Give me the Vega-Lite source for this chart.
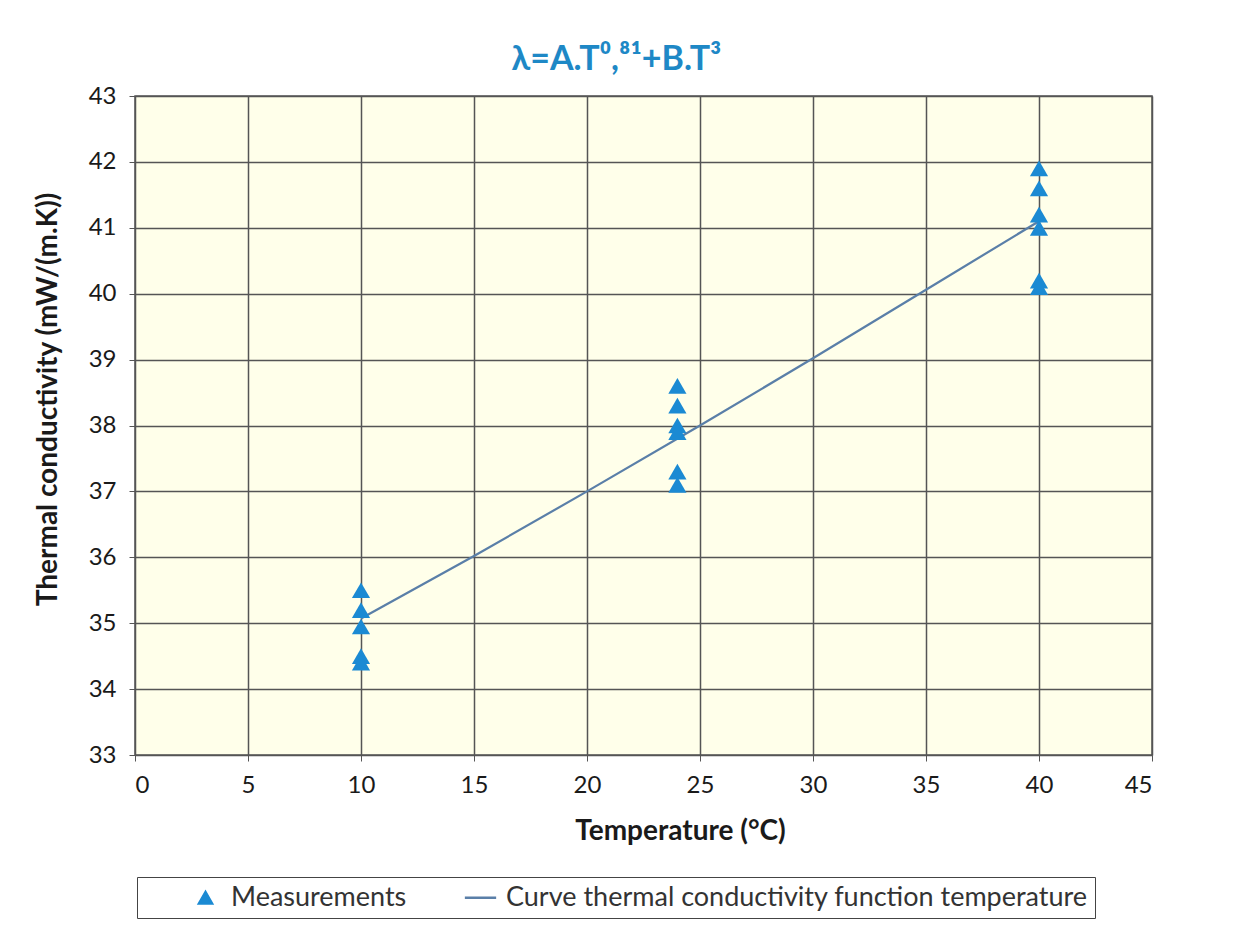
{
  "$schema": "https://vega.github.io/schema/vega-lite/v6.json",
  "width": 1017,
  "height": 659,
  "autosize": "none",
  "padding": {"left": 135, "top": 96, "right": 102, "bottom": 186},
  "background": "white",
  "title": {
    "text": "λ=A.T⁰,⁸¹+B.T³",
    "font": "Lato",
    "fontSize": 34,
    "fontWeight": "bold",
    "color": "#1E88C6",
    "anchor": "middle",
    "dx": -27,
    "offset": 7
  },
  "datasets": {
    "meas": [
      {"T": 10, "lambda": 35.5, "series": "Measurements"},
      {"T": 10, "lambda": 35.2, "series": "Measurements"},
      {"T": 10, "lambda": 34.95, "series": "Measurements"},
      {"T": 10, "lambda": 34.5, "series": "Measurements"},
      {"T": 10, "lambda": 34.4, "series": "Measurements"},
      {"T": 24, "lambda": 38.6, "series": "Measurements"},
      {"T": 24, "lambda": 38.3, "series": "Measurements"},
      {"T": 24, "lambda": 38.0, "series": "Measurements"},
      {"T": 24, "lambda": 37.9, "series": "Measurements"},
      {"T": 24, "lambda": 37.3, "series": "Measurements"},
      {"T": 24, "lambda": 37.1, "series": "Measurements"},
      {"T": 40, "lambda": 41.9, "series": "Measurements"},
      {"T": 40, "lambda": 41.6, "series": "Measurements"},
      {"T": 40, "lambda": 41.2, "series": "Measurements"},
      {"T": 40, "lambda": 41.0, "series": "Measurements"},
      {"T": 40, "lambda": 40.2, "series": "Measurements"},
      {"T": 40, "lambda": 40.1, "series": "Measurements"}
    ],
    "curve": [
      {"T": 10, "lambda": 35.07, "series": "Curve thermal conductivity function temperature"},
      {"T": 15, "lambda": 36.02, "series": "Curve thermal conductivity function temperature"},
      {"T": 20, "lambda": 37.0, "series": "Curve thermal conductivity function temperature"},
      {"T": 25, "lambda": 38.0, "series": "Curve thermal conductivity function temperature"},
      {"T": 30, "lambda": 39.02, "series": "Curve thermal conductivity function temperature"},
      {"T": 35, "lambda": 40.06, "series": "Curve thermal conductivity function temperature"},
      {"T": 40, "lambda": 41.1, "series": "Curve thermal conductivity function temperature"}
    ]
  },
  "layer": [
    {
      "data": {"name": "curve"},
      "mark": {"type": "line", "strokeWidth": 2.2},
      "encoding": {
        "x": {"field": "T", "type": "quantitative"},
        "y": {"field": "lambda", "type": "quantitative"},
        "color": {
          "field": "series", "type": "nominal",
          "scale": {"domain": ["Measurements", "Curve thermal conductivity function temperature"], "range": ["#1B8AD3", "#5A7FA8"]},
          "legend": {"title": null}
        }
      }
    },
    {
      "data": {"name": "meas"},
      "mark": {"type": "point", "filled": true, "opacity": 1, "size": 330},
      "encoding": {
        "x": {"field": "T", "type": "quantitative"},
        "y": {"field": "lambda", "type": "quantitative"},
        "color": {
          "field": "series", "type": "nominal",
          "scale": {"domain": ["Measurements", "Curve thermal conductivity function temperature"], "range": ["#1B8AD3", "#5A7FA8"]},
          "legend": {"title": null}
        },
        "shape": {
          "field": "series", "type": "nominal",
          "scale": {"domain": ["Measurements", "Curve thermal conductivity function temperature"], "range": ["triangle-up", "M-2.4,0H2.4"]},
          "legend": {"title": null}
        }
      }
    }
  ],
  "encoding": {
    "x": {
      "field": "T", "type": "quantitative",
      "scale": {"domain": [0, 45], "nice": false, "zero": false},
      "axis": {"values": [0,5,10,15,20,25,30,35,40,45], "title": "Temperature (°C)", "titleX": 545, "titleY": 76, "titleBaseline": "middle"}
    },
    "y": {
      "field": "lambda", "type": "quantitative",
      "scale": {"domain": [33, 43], "nice": false, "zero": false},
      "axis": {"values": [33,34,35,36,37,38,39,40,41,42,43], "title": "Thermal conductivity (mW/(m.K))", "titleX": -87, "titleY": 303, "titleBaseline": "middle"}
    }
  },
  "config": {
    "view": {"fill": "#FFFFEA", "stroke": "#555555", "strokeWidth": 1.5},
    "axis": {
      "grid": true,
      "gridColor": "#555555",
      "gridWidth": 1.5,
      "gridOpacity": 1,
      "domain": false,
      "ticks": true,
      "tickSize": 6,
      "tickColor": "#555555",
      "labelFont": "Lato",
      "labelFontSize": 24,
      "labelColor": "#1a1a1a",
      "titleFont": "Lato",
      "titleFontSize": 28,
      "titleFontWeight": "bold",
      "titleColor": "#1a1a1a"
    },
    "axisY": {"labelPadding": 13},
    "axisX": {"labelPadding": 12},
    "legend": {
      "orient": "none",
      "legendX": 2,
      "legendY": 781,
      "direction": "horizontal",
      "strokeColor": "#444444",
      "fillColor": "white",
      "padding": 7,
      "columnPadding": 12,
      "symbolOffset": 48,
      "symbolSize": 170,
      "symbolStrokeWidth": 2.5,
      "labelFont": "Lato",
      "labelFontSize": 27,
      "labelColor": "#333333",
      "labelOffset": 12,
      "labelLimit": 800,
      "labelExpr": "datum.label == 'Measurements' ? datum.label : datum.label + '\u2003'"
    }
  }
}
